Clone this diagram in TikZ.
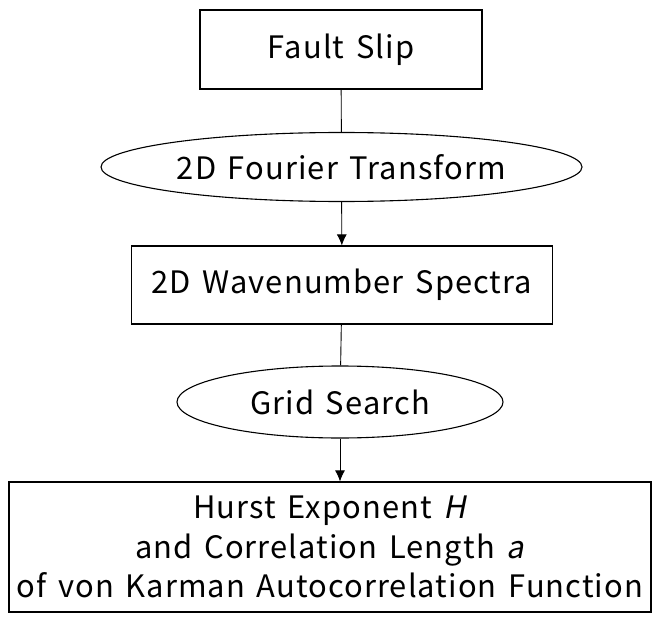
\documentclass[tikz,border=0pt]{standalone}
\usepackage{fontspec}
\setmainfont{Noto Sans CJK JP}[AutoFakeSlant=0.2, LetterSpace=3.5, WordSpace=1.45]
\usetikzlibrary{shapes.geometric,arrows.meta}
% label whose width does not enlarge the shape around it
\newcommand{\flatlabel}[1]{\makebox[0pt][c]{#1}}
\begin{document}
\begin{tikzpicture}[x=1bp,y=-1bp,
  every node/.style={font=\fontsize{31}{40}\selectfont, inner sep=0pt, align=center},
  stepbox/.style={draw=black, line width=1.1bp, rectangle},
  opellipse/.style={draw=black, line width=1.1bp, ellipse},
  link/.style={draw=black, line width=0.9bp},
  flow/.style={link, -{Latex[length=11bp,width=10bp]}}]
  \useasboundingbox (0,0) rectangle (659,617);

  % processing chain, top to bottom
  \node[stepbox, minimum width=282bp, minimum height=79bp] (slip) at (341,49.5) {Fault Slip};
  \node[opellipse, minimum width=481bp, minimum height=69bp] (fft) at (341.5,167) {\flatlabel{2D Fourier Transform}};
  \node[stepbox, minimum width=421bp, minimum height=78bp] (spec) at (342,285) {2D Wavenumber Spectra};
  \node[opellipse, minimum width=326bp, minimum height=72bp] (grid) at (340,402) {\flatlabel{Grid Search}};
  \node[stepbox, minimum width=642bp, minimum height=130bp] (result) at (330,547)
    {Hurst Exponent \textit{H}\\and Correlation Length \textit{a}\\of von Karman Autocorrelation Function};

  % connectors
  \draw[link] (slip) -- (fft);
  \draw[flow] (fft) -- (spec);
  \draw[link] (spec) -- (grid);
  \draw[flow] (grid.south) -- (grid.south |- result.north);
\end{tikzpicture}
\end{document}
